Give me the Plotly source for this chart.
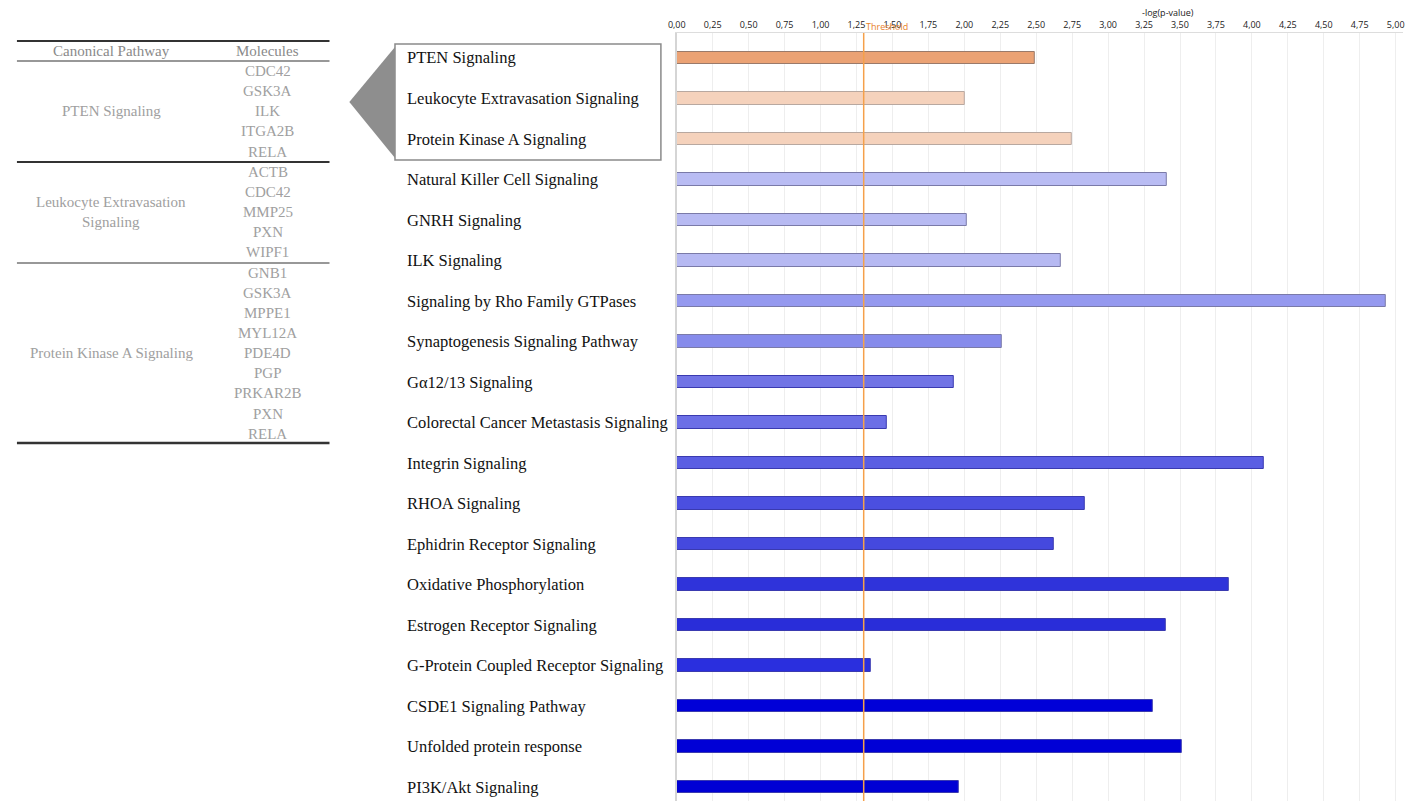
import plotly.graph_objects as go

# ---------------- data ----------------
pathways = [
    "PTEN Signaling",
    "Leukocyte Extravasation Signaling",
    "Protein Kinase A Signaling",
    "Natural Killer Cell Signaling",
    "GNRH Signaling",
    "ILK Signaling",
    "Signaling by Rho Family GTPases",
    "Synaptogenesis Signaling Pathway",
    "Gα12/13 Signaling",
    "Colorectal Cancer Metastasis Signaling",
    "Integrin Signaling",
    "RHOA Signaling",
    "Ephidrin Receptor Signaling",
    "Oxidative Phosphorylation",
    "Estrogen Receptor Signaling",
    "G-Protein Coupled Receptor Signaling",
    "CSDE1 Signaling Pathway",
    "Unfolded protein response",
    "PI3K/Akt Signaling",
]
neg_log_p = [2.49, 2.00, 2.75, 3.41, 2.02, 2.67, 4.93, 2.26, 1.93, 1.46,
             4.08, 2.84, 2.62, 3.84, 3.40, 1.35, 3.31, 3.51, 1.96]
threshold = 1.3
x_ticks = [0, 0.25, 0.5, 0.75, 1.0, 1.25, 1.5, 1.75, 2.0, 2.25, 2.5,
           2.75, 3.0, 3.25, 3.5, 3.75, 4.0, 4.25, 4.5, 4.75, 5.0]
x_tick_labels = ["0,00", "0,25", "0,50", "0,75", "1,00", "1,25", "1,50",
                 "1,75", "2,00", "2,25", "2,50", "2,75", "3,00", "3,25",
                 "3,50", "3,75", "4,00", "4,25", "4,50", "4,75", "5,00"]

table_pathways = ["PTEN Signaling", "Leukocyte Extravasation<br>Signaling",
                  "Protein Kinase A Signaling"]
table_molecules = [
    ["CDC42", "GSK3A", "ILK", "ITGA2B", "RELA"],
    ["ACTB", "CDC42", "MMP25", "PXN", "WIPF1"],
    ["GNB1", "GSK3A", "MPPE1", "MYL12A", "PDE4D", "PGP", "PRKAR2B", "PXN", "RELA"],
]

# ---------------- styles ----------------
bar_colors = ["#EBA274", "#F5D2BC", "#F5D2BC",
              "#B9BCF3", "#B7BAF2", "#B6B9F2", "#9599EF", "#868BEB",
              "#7174E5", "#6C6FE6", "#5A5EE3", "#4B4FE0", "#4549DE",
              "#2F33DA", "#292DD9", "#2A2FDE", "#0000D8", "#0000D6", "#0000D4"]
bar_lines = ["#9A7A6A", "#B8A8A0", "#B8A8A0"] + ["#7A7AA8"] * 5 + ["#3A3AB0"] * 11

W, H = 1419, 801


def px(x):
    return x / W


def py(y):
    return 1 - y / H


serif = "Liberation Serif"
x_max = 5.05
top_px = 33

fig = go.Figure()
fig.add_trace(go.Bar(
    x=neg_log_p, y=pathways, orientation="h", width=0.32,
    marker=dict(color=bar_colors, line=dict(color=bar_lines, width=1)),
    showlegend=False, hoverinfo="x+y",
))

shapes = []
annotations = []

# threshold line
shapes.append(dict(type="line", xref="x", yref="paper", x0=threshold, x1=threshold,
                   y0=0, y1=py(top_px), line=dict(color="#F5A04A", width=1.5), layer="above"))
annotations.append(dict(x=threshold, xref="x", y=py(27), yref="paper", text="Threshold",
                        showarrow=False, xanchor="left", yanchor="middle",
                        font=dict(family="Open Sans", size=9, color="#E8812A")))
annotations.append(dict(x=px(1168), xref="paper", y=py(12), yref="paper", text="-log(p-value)",
                        showarrow=False, xanchor="center", yanchor="middle",
                        font=dict(family="Open Sans", size=9, color="#222")))

# category labels
for name in pathways:
    annotations.append(dict(x=px(399), xref="paper", y=name, yref="y", text=name,
                            showarrow=False, xanchor="left", yanchor="middle",
                            font=dict(family=serif, size=16.5, color="#111")))

# callout box with pointer
shapes.append(dict(type="rect", xref="paper", yref="paper",
                   x0=px(389), x1=px(657), y0=py(160), y1=py(44),
                   line=dict(color="#8A8A8A", width=1.5), fillcolor="rgba(0,0,0,0)", layer="above"))
shapes.append(dict(type="path", xref="paper", yref="paper",
                   path=f"M {px(343)},{py(102)} L {px(389)},{py(47)} L {px(389)},{py(158)} Z",
                   fillcolor="#8E8E8E", line=dict(width=0)))

# table
tx0, tx1 = px(8), px(323)
for yline, wdt in [(41, 2), (61, 1.2), (162, 2), (263, 1.2), (443, 2.5)]:
    shapes.append(dict(type="line", xref="paper", yref="paper", x0=tx0, x1=tx1,
                       y0=py(yline), y1=py(yline), line=dict(color="#333", width=wdt)))
tfont = dict(family=serif, size=15, color="#A0A0A0")
hfont = dict(family=serif, size=15, color="#8A8A8A")
annotations.append(dict(x=px(103), xref="paper", y=py(51), yref="paper", text="Canonical Pathway",
                        showarrow=False, xanchor="center", yanchor="middle", font=hfont))
annotations.append(dict(x=px(261), xref="paper", y=py(51), yref="paper", text="Molecules",
                        showarrow=False, xanchor="center", yanchor="middle", font=hfont))
row0, row_h = 71, 20.15
k = 0
for pw, mols in zip(table_pathways, table_molecules):
    first = k
    for m in mols:
        annotations.append(dict(x=px(261), xref="paper", y=py(row0 + row_h * k), yref="paper",
                                text=m, showarrow=False, xanchor="center", yanchor="middle",
                                font=tfont))
        k += 1
    mid = row0 + row_h * (first + k - 1) / 2
    annotations.append(dict(x=px(103), xref="paper", y=py(mid), yref="paper", text=pw,
                            showarrow=False, xanchor="center", yanchor="middle", font=tfont))

fig.update_layout(
    width=W, height=H, margin=dict(l=0, r=0, t=0, b=0),
    paper_bgcolor="white", plot_bgcolor="white",
    bargap=0,
    xaxis=dict(domain=[px(673), px(673 + 144.9 * x_max)], range=[0, x_max], side="top",
               tickvals=x_ticks, ticktext=x_tick_labels, ticks="",
               tickfont=dict(family="Open Sans", size=9, color="#222"),
               showgrid=True, gridcolor="#EEEEEE", gridwidth=1, zeroline=False,
               showline=True, linecolor="#DDDDDD", linewidth=1, fixedrange=True),
    yaxis=dict(domain=[0, py(top_px)], type="category", categoryarray=pathways,
               range=[(H - 58) / 40.5, (top_px - 58) / 40.5],
               showticklabels=False, showgrid=False, zeroline=False,
               showline=True, linecolor="#D5D5D5", linewidth=2, ticks="", fixedrange=True),
    shapes=shapes, annotations=annotations,
)

fig.write_html("out.html", post_script="document.body.style.margin='0';")
